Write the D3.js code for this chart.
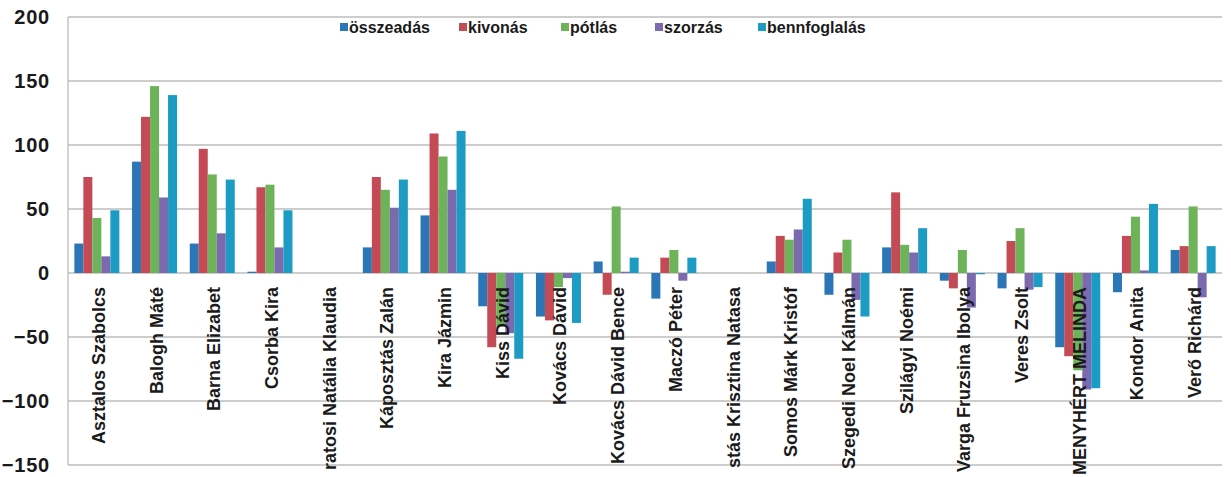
<!DOCTYPE html>
<html><head><meta charset="utf-8">
<script src="https://cdn.jsdelivr.net/npm/d3@7"></script>
<style>
html,body{margin:0;padding:0;background:#fff;}
svg{display:block;}
text{font-family:"Liberation Sans",Arial,sans-serif;font-weight:bold;fill:#1a1a1a;}
</style></head>
<body>
<svg id="chart" width="1231" height="477"></svg>
<script>
const categories = ["Asztalos Szabolcs","Balogh Máté","Barna Elizabet","Csorba Kira","ratosi Natália Klaudia","Káposztás Zalán","Kira Jázmin","Kiss Dávid","Kovács Dávid","Kovács Dávid Bence","Maczó Péter","stás Krisztina Natasa","Somos Márk Kristóf","Szegedi Noel Kálmán","Szilágyi Noémi","Varga Fruzsina Ibolya","Veres Zsolt","MENYHÉRT MELINDA","Kondor Anita","Verő Richárd"];
const seriesNames = ["összeadás","kivonás","pótlás","szorzás","bennfoglalás"];
const osszeadas    = [23, 87, 23, 1, 0, 20, 45, -26, -34, 9, -20, 0, 9, -17, 20, -6, -12, -58, -15, 18];
const kivonas      = [75, 122, 97, 67, 0, 75, 109, -58, -37, -17, 12, 0, 29, 16, 63, -12, 25, -65, 29, 21];
const potlas       = [43, 146, 77, 69, 0, 65, 91, -42, -11, 52, 18, 0, 26, 26, 22, 18, 35, -76, 44, 52];
const szorzas      = [13, 59, 31, 20, 0, 51, 65, -47, -4, 1, -6, 0, 34, -21, 16, -27, -13, -91, 2, -19];
const bennfoglalas = [49, 139, 73, 49, 0, 73, 111, -67, -39, 12, 12, 0, 58, -34, 35, -1, -11, -90, 54, 21];
const yTicks = [200, 150, 100, 50, 0, -50, -100, -150];

const seriesValues = [osszeadas, kivonas, potlas, szorzas, bennfoglalas];
const colors = ["#2a76b6", "#c44a56", "#6db35a", "#7c6aae", "#1c9cc4"];

const svg = d3.select("#chart");
const L = 68, R = 1222, T = 17, B = 465;

const y = d3.scaleLinear().domain([-150, 200]).range([B, T]);
const x0 = d3.scaleBand().domain(categories).range([L, R]).paddingInner(0.22).paddingOuter(0.11);
const x1 = d3.scaleBand().domain(seriesNames).range([0, x0.bandwidth()]);

// gridlines
svg.append("g").selectAll("line").data(yTicks).join("line")
  .attr("x1", L).attr("x2", R)
  .attr("y1", d => y(d)).attr("y2", d => y(d))
  .attr("stroke", "#bcbcbc").attr("stroke-width", 1.3);
// left axis line
svg.append("line").attr("x1", L).attr("x2", L).attr("y1", T).attr("y2", B)
  .attr("stroke", "#bcbcbc").attr("stroke-width", 1.3);

// y labels
const yAxis = d3.axisLeft(y).tickValues(yTicks).tickSize(0).tickPadding(18);
const gy = svg.append("g").attr("transform", `translate(${L},0)`).call(yAxis);
gy.select(".domain").remove();
gy.selectAll("text").style("font-size", "20px").style("letter-spacing", "0.8px")
  .style("font-family", "'Liberation Sans', Arial, sans-serif").style("font-weight", "bold").attr("fill", "#1a1a1a");

// bars
const rows = categories.map((c, i) => ({cat: c, vals: seriesNames.map((s, j) => ({s, j, v: seriesValues[j][i]}))}));
const groups = svg.append("g").selectAll("g").data(rows).join("g")
  .attr("transform", d => `translate(${x0(d.cat)},0)`);
groups.selectAll("rect").data(d => d.vals).join("rect")
  .attr("x", d => x1(d.s))
  .attr("width", x1.bandwidth())
  .attr("y", d => y(Math.max(0, d.v)))
  .attr("height", d => Math.abs(y(d.v) - y(0)))
  .attr("fill", d => colors[d.j]);

// category labels
svg.append("g").selectAll("text").data(categories).join("text")
  .attr("transform", d => `translate(${x0(d) + x0.bandwidth()/2 + 8},287) rotate(-90)`)
  .attr("text-anchor", "end")
  .style("font-size", "18px")
  .text(d => d);

// legend
const legendX = [340, 459, 561, 655, 758];
const lg = svg.append("g").selectAll("g").data(seriesNames).join("g")
  .attr("transform", (d, i) => `translate(${legendX[i]},27)`);
lg.append("rect").attr("x", 0).attr("y", -4).attr("width", 8).attr("height", 8)
  .attr("fill", (d, i) => colors[i]);
lg.append("text").attr("x", 9).attr("dy", "0.35em").style("font-size", "16px").text(d => d);
</script>
</body></html>
